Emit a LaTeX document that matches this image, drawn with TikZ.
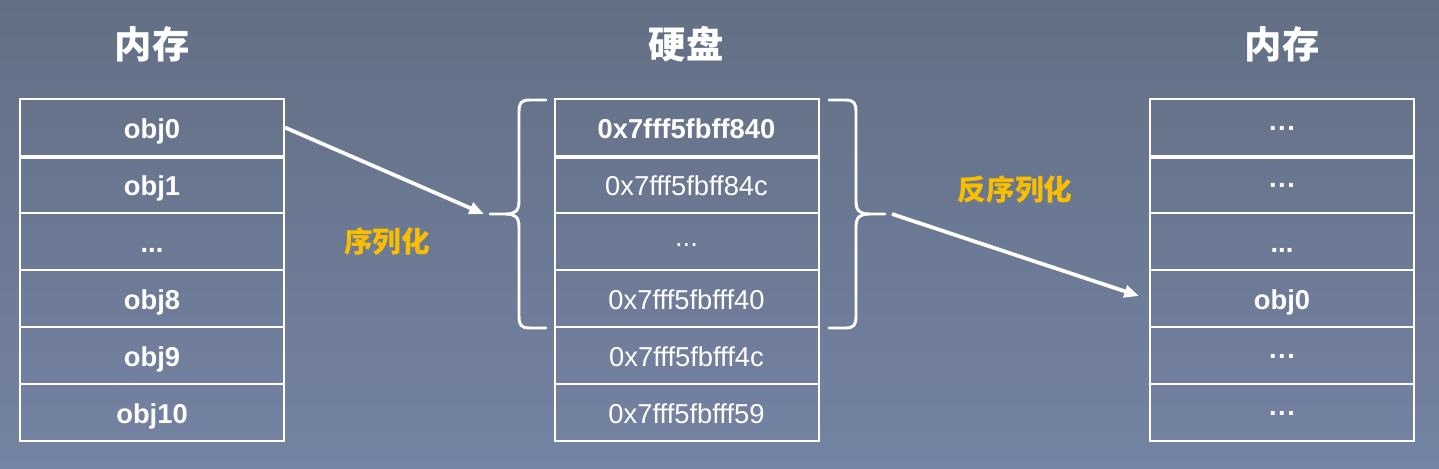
\documentclass[tikz,border=0pt]{standalone}
\usepackage{fontspec}
\setmainfont{Liberation Sans}
\newfontfamily\cjk{Noto Sans CJK SC}
\usetikzlibrary{arrows.meta}
\definecolor{bgtop}{RGB}{99,111,132}
\definecolor{bgbot}{RGB}{117,131,164}
\definecolor{lab}{RGB}{250,190,0}
\newcommand{\middots}{\raisebox{6pt}{.\kern1.2pt.\kern1.2pt.}}
\newcommand{\regdots}{\raisebox{5pt}{...}}
\begin{document}
\begin{tikzpicture}[x=0.75pt,y=-0.75pt,
  cell/.style={draw=white, line width=1.5pt, minimum width=198pt, minimum height=42.75pt,
    inner sep=0pt, text=white, text height=19pt, text depth=2pt,
    font=\fontsize{20.5}{24}\selectfont},
  bcell/.style={cell, font=\fontsize{20.5}{24}\selectfont\bfseries},
  title/.style={text=white, font=\fontsize{28}{32}\selectfont\cjk\bfseries},
  lbl/.style={text=lab, font=\fontsize{21.5}{24}\selectfont\cjk\bfseries},
  sep/.style={white, line width=3.5pt},
  brace/.style={white, line width=2.2pt, line cap=round},
  arr/.style={white, line width=2.8pt, -{Triangle[length=11pt,width=9pt]}}]
\useasboundingbox (0,0) rectangle (1439,468);
\fill[top color=bgtop, bottom color=bgbot] (0,0) rectangle (1439,468);
% titles
\node[title] (t1) at (152,44) {内存};
\node[title] (t2) at (686,44) {硬盘};
\node[title] (t3) at (1282,44) {内存};
% left column
\node[bcell] (L0) at (152,127.5) {obj0};
\node[bcell] (L1) at (152,184.5) {obj1};
\node[bcell] (L2) at (152,241.5) {...};
\node[bcell] (L3) at (152,298.5) {obj8};
\node[bcell] (L4) at (152,355.5) {obj9};
\node[bcell] (L5) at (152,412.5) {obj10};
\draw[sep] (L0.south west) -- (L0.south east);
% middle column
\node[bcell] (M0) at (686.5,127.5) {0x7fff5fbff840};
\node[cell] (M1) at (686.5,184.5) {0x7fff5fbff84c};
\node[cell] (M2) at (686.5,241.5) {\regdots};
\node[cell] (M3) at (686.5,298.5) {0x7fff5fbfff40};
\node[cell] (M4) at (686.5,355.5) {0x7fff5fbfff4c};
\node[cell] (M5) at (686.5,412.5) {0x7fff5fbfff59};
\draw[sep] (M0.south west) -- (M0.south east);
% right column
\node[bcell] (R0) at (1282,127.5) {\middots};
\node[bcell] (R1) at (1282,184.5) {\middots};
\node[bcell] (R2) at (1282,241.5) {...};
\node[bcell] (R3) at (1282,298.5) {obj0};
\node[bcell] (R4) at (1282,355.5) {\middots};
\node[bcell] (R5) at (1282,412.5) {\middots};
\draw[sep] (R0.south west) -- (R0.south east);
% braces
\draw[brace] (546,100) -- (530,100) .. controls (521,100) and (519,103) .. (519,112) -- (519,201)
  .. controls (519,211) and (515,214) .. (506,214) -- (490,214);
\draw[brace] (506,214) .. controls (515,214) and (519,217) .. (519,227) -- (519,316)
  .. controls (519,325) and (521,328) .. (530,328) -- (546,328);
\draw[brace] (829,100) -- (845,100) .. controls (854,100) and (856,103) .. (856,112) -- (856,201)
  .. controls (856,211) and (860,214) .. (869,214) -- (885,214);
\draw[brace] (869,214) .. controls (860,214) and (856,217) .. (856,227) -- (856,316)
  .. controls (856,325) and (854,328) .. (845,328) -- (829,328);
% arrows
\coordinate (lbtip) at (484,214);
\coordinate (rbtip) at (892,214);
\coordinate (rend) at (1139,296);
\draw[arr] (L0.east) -- (lbtip);
\draw[arr] (rbtip) -- (rend);
% labels
\node[lbl] (s1) at (387,242) {序列化};
\node[lbl] (s2) at (1015,190) {反序列化};
\end{tikzpicture}
\end{document}
